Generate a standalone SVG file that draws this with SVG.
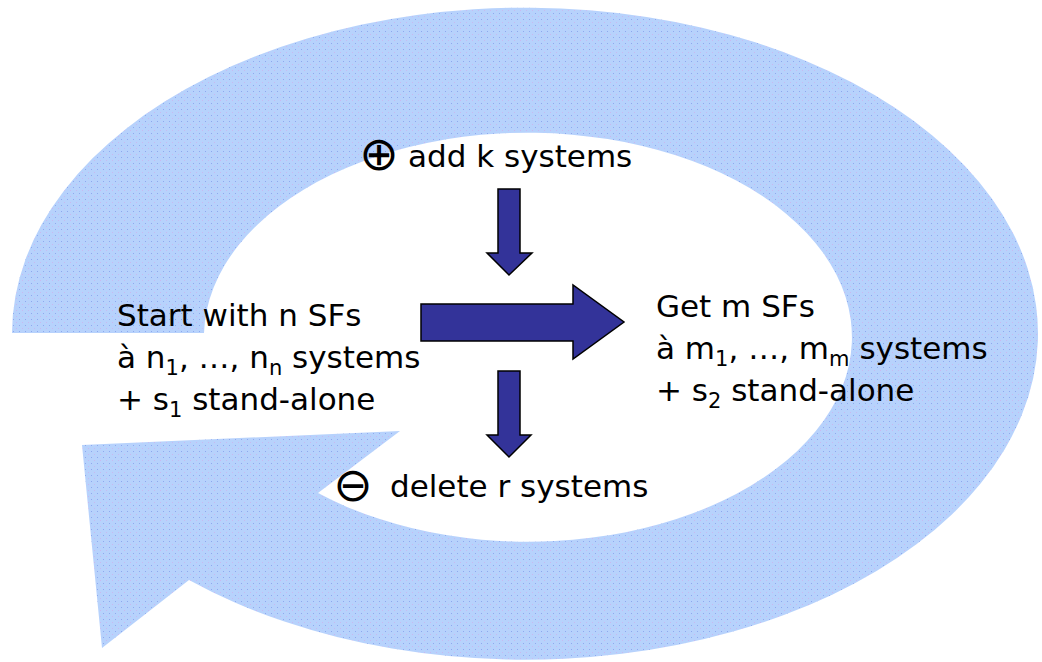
<svg xmlns="http://www.w3.org/2000/svg" width="1042" height="662" viewBox="0 0 1042 662">
  <style>
    .lbl { font-family: "DejaVu Sans", "Liberation Sans", sans-serif; font-size: 31px; fill: #000; }
    .sym { font-family: "DejaVu Sans", "Liberation Sans", sans-serif; font-size: 47px; fill: #000; text-anchor: middle; }
    .sub { font-size: 21px; }
    .arrow { fill: #333399; stroke: #000; stroke-width: 1.5; stroke-linejoin: miter; }
  </style>
  <defs>
    <pattern id="dots" width="6" height="6" patternUnits="userSpaceOnUse">
      <rect width="6" height="6" fill="#b7d2fc"/>
      <rect x="1" y="1" width="1" height="1" fill="#8ea9ef"/>
      <rect x="4" y="4" width="1" height="1" fill="#c9b8f0"/>
    </pattern>
  </defs>
  <rect width="1042" height="662" fill="#fff"/>
  <g id="cycle">
    <path d="M12,333 A513,326 0 1 1 189,580 L102,648 L82,445 L400,431 L318,493 A324,204.5 0 1 0 204,333 Z" fill="url(#dots)"/>
  </g>
  <g id="connectors">
    <path class="arrow" d="M498,189 H520 V253 H532 L509,275 L487,253 H498 Z"/>
    <path class="arrow" d="M421,304 H573 V285 L624,322 L573,359 V341 H421 Z"/>
    <path class="arrow" d="M498,371 H520 V435 H531 L509,457 L487,435 H498 Z"/>
  </g>
  <g id="start">
    <text class="lbl" x="117" y="326">Start with n SFs</text>
    <text class="lbl" x="117" y="368">à n<tspan class="sub" dy="7">1</tspan><tspan dy="-7">, …, n</tspan><tspan class="sub" dy="7">n</tspan><tspan dy="-7"> systems</tspan></text>
    <text class="lbl" x="117" y="410">+ s<tspan class="sub" dy="7">1</tspan><tspan dy="-7"> stand-alone</tspan></text>
  </g>
  <g id="get">
    <text class="lbl" x="656" y="317">Get m SFs</text>
    <text class="lbl" x="656" y="359">à m<tspan class="sub" dy="7">1</tspan><tspan dy="-7">, …, m</tspan><tspan class="sub" dy="7">m</tspan><tspan dy="-7"> systems</tspan></text>
    <text class="lbl" x="656" y="401">+ s<tspan class="sub" dy="7">2</tspan><tspan dy="-7"> stand-alone</tspan></text>
  </g>
  <g id="add">
    <text class="sym" x="379" y="170">⊕</text>
    <text class="lbl" x="408" y="167">add k systems</text>
  </g>
  <g id="delete">
    <text class="sym" x="353" y="501">⊖</text>
    <text class="lbl" x="390" y="497">delete r systems</text>
  </g>
</svg>
